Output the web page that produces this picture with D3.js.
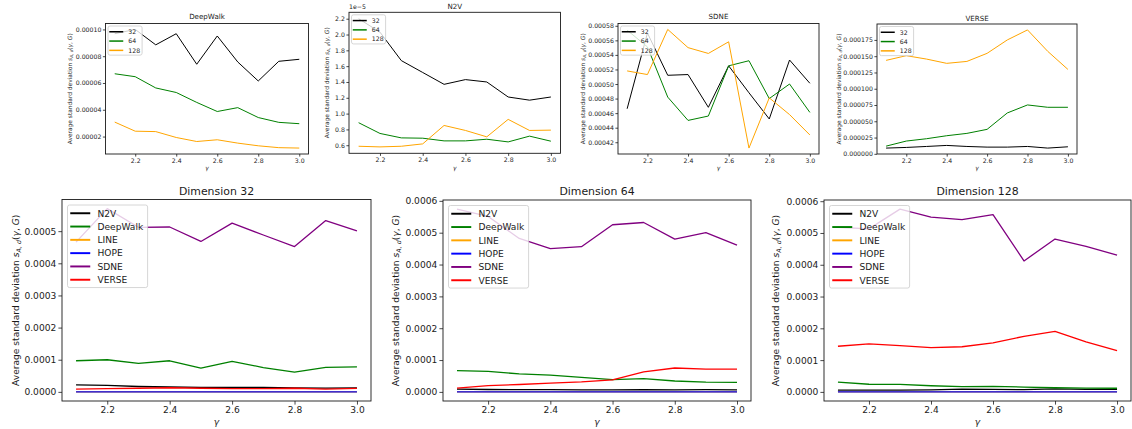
<!DOCTYPE html>
<html><head><meta charset="utf-8">
<script src="https://cdn.jsdelivr.net/npm/d3@7"></script>
<style>
body{margin:0;background:#fff}
text{font-family:"DejaVu Sans",sans-serif;fill:#1a1a1a}
</style>
</head><body>
<svg id="c" width="1132" height="429"></svg>
<script>
// ---------------- data ----------------
const gammas = [2.1, 2.2, 2.3, 2.4, 2.5, 2.6, 2.7, 2.8, 2.9, 3.0];
const xTickValues = [2.2, 2.4, 2.6, 2.8, 3.0];

const deepwalk32  = [0.0000968, 0.0001000, 0.0000885, 0.0000968, 0.0000740, 0.0000951, 0.0000757, 0.0000615, 0.0000762, 0.0000777];
const deepwalk64  = [0.0000669, 0.0000647, 0.0000563, 0.0000529, 0.0000455, 0.0000387, 0.0000416, 0.0000342, 0.0000306, 0.0000296];
const deepwalk128 = [0.0000308, 0.0000240, 0.0000237, 0.0000193, 0.0000163, 0.0000176, 0.0000151, 0.0000131, 0.0000117, 0.0000114];

const n2v32  = [2.20e-5, 2.03e-5, 1.67e-5, 1.52e-5, 1.37e-5, 1.43e-5, 1.40e-5, 1.21e-5, 1.17e-5, 1.21e-5];
const n2v64  = [0.885e-5, 0.749e-5, 0.693e-5, 0.689e-5, 0.655e-5, 0.655e-5, 0.676e-5, 0.642e-5, 0.715e-5, 0.651e-5];
const n2v128 = [0.587e-5, 0.579e-5, 0.587e-5, 0.617e-5, 0.850e-5, 0.787e-5, 0.706e-5, 0.927e-5, 0.787e-5, 0.791e-5];

const sdne32  = [0.000466, 0.000570, 0.000512, 0.000513, 0.000468, 0.000525, 0.000488, 0.000452, 0.000533, 0.000501];
const sdne64  = [0.000574, 0.000551, 0.000482, 0.000450, 0.000456, 0.000525, 0.000532, 0.000480, 0.000500, 0.000461];
const sdne128 = [0.000518, 0.000513, 0.000575, 0.000550, 0.000542, 0.000558, 0.000412, 0.000481, 0.000458, 0.000430];

const verse32  = [0.0000088, 0.0000098, 0.0000113, 0.0000129, 0.0000113, 0.0000103, 0.0000103, 0.0000113, 0.0000088, 0.0000108];
const verse64  = [0.0000118, 0.0000196, 0.0000232, 0.0000278, 0.0000314, 0.0000376, 0.0000628, 0.0000751, 0.0000715, 0.0000715];
const verse128 = [0.0001436, 0.0001508, 0.0001456, 0.0001390, 0.0001420, 0.0001544, 0.0001750, 0.0001904, 0.0001575, 0.0001297];

const line32  = [0.0000003, 0.0000003, 0.0000002, 0.0000003, 0.0000002, 0.0000002, 0.0000003, 0.0000002, 0.0000002, 0.0000002];
const line64  = [0.0000003, 0.0000002, 0.0000002, 0.0000003, 0.0000002, 0.0000002, 0.0000002, 0.0000003, 0.0000002, 0.0000002];
const line128 = [0.0000002, 0.0000002, 0.0000003, 0.0000002, 0.0000002, 0.0000002, 0.0000002, 0.0000002, 0.0000003, 0.0000002];
const hope32  = [0.0000001, 0.0000001, 0.0000001, 0.0000001, 0.0000001, 0.0000001, 0.0000001, 0.0000001, 0.0000001, 0.0000001];
const hope64  = [0.0000001, 0.0000001, 0.0000001, 0.0000001, 0.0000001, 0.0000001, 0.0000001, 0.0000001, 0.0000001, 0.0000001];
const hope128 = [0.0000001, 0.0000001, 0.0000001, 0.0000001, 0.0000001, 0.0000001, 0.0000001, 0.0000001, 0.0000001, 0.0000001];

const dimLabels = ["32", "64", "128"];
const methodLabels = ["N2V", "DeepWalk", "LINE", "HOPE", "SDNE", "VERSE"];

const deepwalkTicks = [0.00002, 0.00004, 0.00006, 0.00008, 0.00010];
const n2vTicks = [0.6, 0.8, 1.0, 1.2, 1.4, 1.6, 1.8, 2.0, 2.2]; // x 1e-5
const sdneTicks = [0.00042, 0.00044, 0.00046, 0.00048, 0.00050, 0.00052, 0.00054, 0.00056, 0.00058];
const verseTicks = [0.000000, 0.000025, 0.000050, 0.000075, 0.000100, 0.000125, 0.000150, 0.000175];
const dim32Ticks = [0.0000, 0.0001, 0.0002, 0.0003, 0.0004, 0.0005];
const dim64Ticks = [0.0000, 0.0001, 0.0002, 0.0003, 0.0004, 0.0005, 0.0006];

// ---------------- styles ----------------
const dimColors = ["#000000", "#008000", "#ffa500"];
const methodColors = ["#000000", "#008000", "#ffa500", "#0000ff", "#800080", "#ff0000"];

const SMALL = {tick: 6.2, title: 7.1, legend: 6.2, label: 5.9, tickLen: 2.6, lw: 1, handle: 14, rowH: 9.3, lpad: 2.5};
const BIG   = {tick: 9.1, title: 10.9, legend: 9.1, label: 9.1, tickLen: 3.6, lw: 1.3, handle: 20, rowH: 13.3, lpad: 5.5};

const svg = d3.select("#c");

function zip(labels, arrs, colors) {
  return labels.map((l, i) => ({label: l, values: arrs[i], color: colors[i]}));
}

const panels = [
  {title: "DeepWalk", box: [105.5, 23.5, 308.5, 154], st: SMALL, series: zip(dimLabels, [deepwalk32, deepwalk64, deepwalk128], dimColors),
   yTicks: deepwalkTicks, fmt: d3.format(".5f"), ylabX: 34, titleY: 18.5},
  {title: "N2V", box: [349, 12.3, 560.5, 153.3], st: SMALL, series: zip(dimLabels, [n2v32, n2v64, n2v128], dimColors),
   yTicks: n2vTicks.map(v => v * 1e-5), fmt: v => (v / 1e-5).toFixed(1), ylabX: 20.5, titleY: 8.6, offset: "1e\u22125"},
  {title: "SDNE", box: [618, 23.5, 819, 154], st: SMALL, series: zip(dimLabels, [sdne32, sdne64, sdne128], dimColors),
   yTicks: sdneTicks, fmt: d3.format(".5f"), ylabX: 33, titleY: 18.5},
  {title: "VERSE", box: [877, 24, 1077, 154], st: SMALL, series: zip(dimLabels, [verse32, verse64, verse128], dimColors),
   yTicks: verseTicks, fmt: d3.format(".6f"), ylabX: 36, titleY: 21},
  {title: "Dimension 32", box: [62, 199.5, 371, 401], st: BIG,
   series: zip(methodLabels, [n2v32, deepwalk32, line32, hope32, sdne32, verse32], methodColors),
   yTicks: dim32Ticks, fmt: d3.format(".4f"), ylabX: 43.5, titleY: 195},
  {title: "Dimension 64", box: [443, 200, 751, 401], st: BIG,
   series: zip(methodLabels, [n2v64, deepwalk64, line64, hope64, sdne64, verse64], methodColors),
   yTicks: dim64Ticks, fmt: d3.format(".4f"), ylabX: 44.5, titleY: 195},
  {title: "Dimension 128", box: [824, 200, 1131, 401], st: BIG,
   series: zip(methodLabels, [n2v128, deepwalk128, line128, hope128, sdne128, verse128], methodColors),
   yTicks: dim64Ticks, fmt: d3.format(".4f"), ylabX: 45, titleY: 195}
];

function ylabel(g, st, x, yc) {
  const t = g.append("text").attr("transform", `translate(${x},${yc}) rotate(-90)`)
    .attr("text-anchor", "middle").style("font-size", st.label + "px");
  t.append("tspan").text("Average standard deviation ");
  t.append("tspan").attr("font-style", "italic").text("s");
  t.append("tspan").attr("font-style", "italic").attr("dy", st.label * 0.22).style("font-size", (st.label * 0.7) + "px").text("A, d");
  t.append("tspan").attr("dy", -st.label * 0.22).text("(");
  t.append("tspan").attr("font-style", "italic").text("\u03b3");
  t.append("tspan").text(", ");
  t.append("tspan").attr("font-style", "italic").text("G");
  t.append("tspan").text(")");
}

panels.forEach((p, pi) => {
  const [x0, y0, x1, y1] = p.box;
  const st = p.st;
  const g = svg.append("g");
  const all = p.series.flatMap(s => s.values);
  const [mn, mx] = d3.extent(all);
  const pad = (mx - mn) * 0.05;
  const y = d3.scaleLinear().domain([mn - pad, mx + pad]).range([y1, y0]);
  const gx = d3.extent(gammas);
  const xpad = (gx[1] - gx[0]) * 0.05;
  const x = d3.scaleLinear().domain([gx[0] - xpad, gx[1] + xpad]).range([x0, x1]);

  const cid = "clip" + pi;
  g.append("clipPath").attr("id", cid).append("rect")
    .attr("x", x0).attr("y", y0).attr("width", x1 - x0).attr("height", y1 - y0);

  const line = d3.line().x((d, i) => x(gammas[i])).y(d => y(d));
  const lg = g.append("g").attr("clip-path", `url(#${cid})`);
  p.series.forEach(s => {
    lg.append("path").datum(s.values).attr("d", line)
      .attr("fill", "none").attr("stroke", s.color).attr("stroke-width", st.lw)
      .attr("stroke-linejoin", "round");
  });

  // axes
  const xa = g.append("g").attr("transform", `translate(0,${y1})`)
    .call(d3.axisBottom(x).tickValues(xTickValues).tickFormat(d3.format(".1f"))
      .tickSize(st.tickLen).tickPadding(st.tickLen * 0.6).tickSizeOuter(0));
  const ya = g.append("g").attr("transform", `translate(${x0},0)`)
    .call(d3.axisLeft(y).tickValues(p.yTicks).tickFormat(p.fmt)
      .tickSize(st.tickLen).tickPadding(st.tickLen * 0.6).tickSizeOuter(0));
  [xa, ya].forEach(a => {
    a.select(".domain").remove();
    a.selectAll("line").attr("stroke", "#1a1a1a").attr("stroke-width", 0.8);
    a.selectAll("text").style("font-size", st.tick + "px").attr("fill", "#1a1a1a").style("font-family", "DejaVu Sans");
  });

  // frame
  g.append("rect").attr("x", x0).attr("y", y0).attr("width", x1 - x0).attr("height", y1 - y0)
    .attr("fill", "none").attr("stroke", "#1a1a1a").attr("stroke-width", 0.9);

  // title
  g.append("text").attr("x", (x0 + x1) / 2).attr("y", p.titleY).attr("text-anchor", "middle")
    .style("font-size", st.title + "px").text(p.title);

  if (p.offset) {
    g.append("text").attr("x", x0).attr("y", y0 - 3.5).style("font-size", st.tick + "px").text(p.offset);
  }

  // x label
  g.append("text").attr("x", (x0 + x1) / 2).attr("y", y1 + st.tick * 2.65)
    .attr("text-anchor", "middle").attr("font-style", "italic").style("font-size", st.label + "px").text("\u03b3");

  // y label
  ylabel(g, st, x0 - p.ylabX, (y0 + y1) / 2);

  // legend
  const lgx = x0 + st.lpad, lgy = y0 + st.lpad;
  const leg = g.append("g");
  const bg = leg.append("rect");
  const items = leg.selectAll("g.it").data(p.series).join("g")
    .attr("transform", (d, i) => `translate(${lgx + st.lpad * 0.5},${lgy + st.rowH * (i + 0.62)})`);
  items.append("line").attr("x1", 0).attr("x2", st.handle).attr("y1", 0).attr("y2", 0)
    .attr("stroke", d => d.color).attr("stroke-width", st.lw * 1.5);
  items.append("text").attr("x", st.handle + st.handle * 0.36).attr("y", st.legend * 0.36)
    .style("font-size", st.legend + "px").text(d => d.label);
  let maxW = 0;
  items.selectAll("text").each(function() { maxW = Math.max(maxW, this.getComputedTextLength()); });
  const bw = st.lpad * 0.5 + st.handle * 1.36 + maxW + st.lpad * 0.8;
  const bh = st.rowH * p.series.length + st.lpad * 0.5;
  bg.attr("x", lgx).attr("y", lgy).attr("width", bw).attr("height", bh)
    .attr("rx", 2).attr("fill", "#fff").attr("fill-opacity", 0.8)
    .attr("stroke", "#cccccc").attr("stroke-width", 0.8);
});
</script>
</body></html>
